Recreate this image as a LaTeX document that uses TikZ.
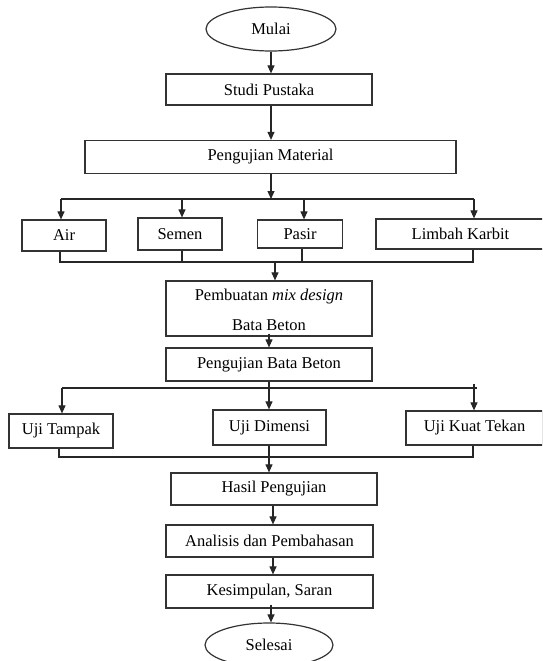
\documentclass[tikz,border=0pt]{standalone}
\usepackage{fontspec}
\setmainfont{Liberation Serif}
\usetikzlibrary{arrows.meta,shapes.geometric}
\begin{document}
\begin{tikzpicture}[x=1pt,y=-1pt,
  txt/.style={inner sep=0pt, font=\fontsize{16.5}{20}\selectfont, text=black},
  box/.style={txt, draw=black!80, line width=1.2pt, rectangle},
  oval/.style={txt, draw=black!80, line width=1.2pt, ellipse},
  ln/.style={draw=black!85, line width=1.1pt},
  arr/.style={ln, -{Triangle[length=8pt,width=7pt]}}]
\useasboundingbox (0,0) rectangle (542,661);
\clip (0,0) rectangle (542,661);

\node[oval, minimum width=130, minimum height=44] (mulai) at (271,29) {Mulai};
\node[box, minimum width=206, minimum height=31] (studi) at (269,89.5) {Studi Pustaka};
\node[box, minimum width=371, minimum height=33] (pm) at (270.5,157) {Pengujian Material};
\node[box, minimum width=84, minimum height=31] (air) at (64,235.5) {Air};
\node[box, minimum width=84, minimum height=32] (semen) at (180,234) {Semen};
\node[box, minimum width=85, minimum height=28] (pasir) at (300,234) {Pasir};
\node[box, minimum width=169, minimum height=30] (limbah) at (460.5,234) {Limbah Karbit};
\node[box, minimum width=206, minimum height=55] (mix) at (269,308.5) {};
\node[txt] (mixa) at (269,297) {Pembuatan \textit{mix design}};
\node[txt] (mixb) at (269,325) {Bata Beton};
\node[box, minimum width=206, minimum height=33] (pbb) at (269,364.5) {Pengujian Bata Beton};
\node[box, minimum width=104, minimum height=34] (tampak) at (61,431) {Uji Tampak};
\node[box, minimum width=113, minimum height=35] (dimensi) at (269.5,427.5) {Uji Dimensi};
\node[box, minimum width=137, minimum height=34] (kuat) at (474.5,428) {Uji Kuat Tekan};
\node[box, minimum width=206, minimum height=32] (hasil) at (274,489) {Hasil Pengujian};
\node[box, minimum width=207, minimum height=32] (analisis) at (269.5,541) {Analisis dan Pembahasan};
\node[box, minimum width=207, minimum height=33] (kes) at (269.5,591.5) {Kesimpulan, Saran};
\node[oval, minimum width=128, minimum height=44] (selesai) at (269,645) {Selesai};

% top part
\draw[arr] (mulai.south) -- (mulai.south |- studi.north);
\coordinate (sx) at (271,0);
\draw[arr] (studi.south -| sx) -- (sx |- pm.north);

% material bus
\coordinate (t0) at (271,199);
\coordinate (tA) at (61,199);
\coordinate (tS) at (182,199);
\coordinate (tP) at (304,199);
\coordinate (tL) at (474,199);
\draw[arr] (pm.south -| t0) -- (t0);
\draw[ln] (tA) -- (tL);
\draw[arr] (tA) -- (tA |- air.north);
\draw[arr] (tS) -- (tS |- semen.north);
\draw[arr] (tP) -- (tP |- pasir.north);
\draw[arr] (tL) -- (tL |- limbah.north);

% collect bus
\coordinate (lA) at (60,262);
\coordinate (lS) at (182,262);
\coordinate (lP) at (302,262);
\coordinate (lL) at (473,262);
\coordinate (lM) at (275,262);
\draw[ln] (air.south -| lA) -- (lA) -- (lL) -- (limbah.south -| lL);
\draw[ln] (semen.south -| lS) -- (lS);
\draw[ln] (pasir.south -| lP) -- (lP);
\draw[arr] (lM) -- (lM |- mix.north);

\draw[arr] ([yshift=3pt]mix.south) -- (mix.south |- pbb.north);

% test bus
\coordinate (m1) at (62,388);
\coordinate (m2) at (477,388);
\coordinate (mk) at (474,384);
\draw[ln] (m1) -- (m2);
\draw[arr] (pbb.south) -- (pbb.south |- dimensi.north);
\draw[arr] (m1) -- (m1 |- tampak.north);
\draw[arr] (mk) -- (mk |- kuat.north);

% result bus
\coordinate (n1) at (59,457);
\coordinate (n2) at (473,457);
\draw[ln] (tampak.south -| n1) -- (n1) -- (n2) -- (kuat.south -| n2);
\coordinate (dx) at (269,0);
\draw[arr] (dimensi.south -| dx) -- (dx |- hasil.north);

% final chain
\coordinate (hx) at (273,0);
\draw[arr] (hasil.south -| hx) -- (hx |- analisis.north);
\draw[arr] (analisis.south -| hx) -- (hx |- kes.north);
\coordinate (kx) at (271,0);
\draw[arr] ([yshift=4pt]kes.south -| kx) -- (kx |- selesai.north);
\end{tikzpicture}
\end{document}
